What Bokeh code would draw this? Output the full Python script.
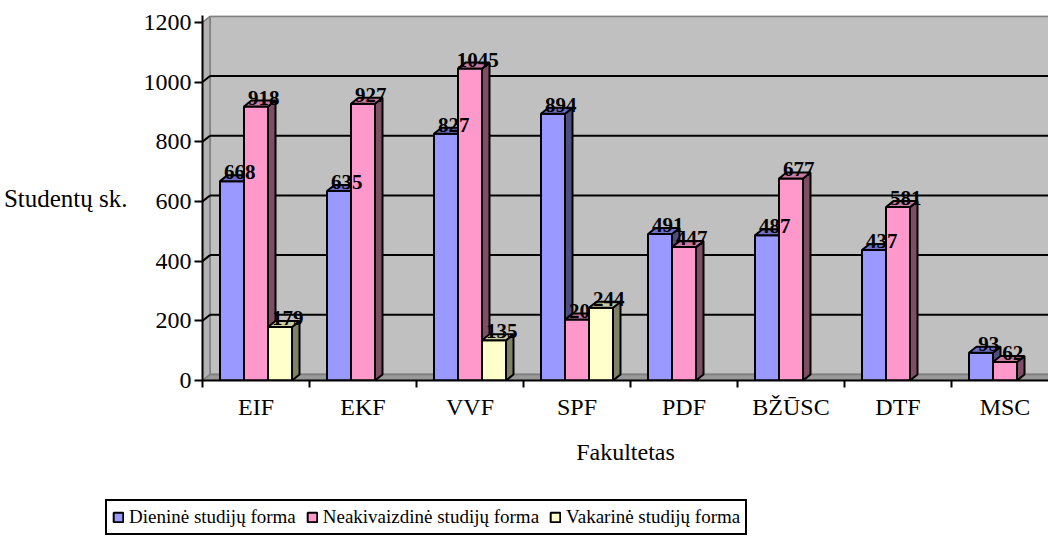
from bokeh.plotting import figure
from bokeh.layouts import column
from bokeh.models import Range1d, FixedTicker, Legend, LegendItem
from bokeh.core.properties import value
from bokeh.embed import file_html
from bokeh.resources import INLINE

# ---- data ----
categories = ["EIF", "EKF", "VVF", "SPF", "PDF", "BŽŪSC", "DTF", "MSC"]
dieninė = [668, 635, 827, 894, 491, 487, 437, 93]
neakivaizdinė = [918, 927, 1045, 204, 447, 677, 581, 62]
vakarinė = [179, None, 135, 244, None, None, None, None]
series_names = ["Dieninė studijų forma", "Neakivaizdinė studijų forma", "Vakarinė studijų forma"]
y_ticks = [0, 200, 400, 600, 800, 1000, 1200]

front_colors = ["#9999FF", "#FF99CC", "#FFFFCC"]
top_colors = ["#6F6FC8", "#CC7AA3", "#CCCCA3"]
side_colors = ["#4D4D80", "#804D66", "#808066"]

FONT = "Liberation Serif"

# ---- layout / geometry (pixels -> data) ----
W = 1048
H_MAIN = 485
H_LEG = 52
BORDER_LEFT = 202
BORDER_TOP = 15
FRAME_H = 365.0
CAT_PX = 107.0
FRAME_W = W - BORDER_LEFT
XMAX = FRAME_W / CAT_PX
YMAX = 1223.0
PX_PER_Y = FRAME_H / YMAX
DX = 7.5 / CAT_PX
DY = 6.0 / PX_PER_Y
BAR_W = 24.0 / CAT_PX
BAR_LINE = 2

p = figure(width=W, height=H_MAIN, output_backend="svg", toolbar_location=None,
           x_range=Range1d(0, XMAX), y_range=Range1d(0, YMAX),
           min_border_left=BORDER_LEFT, min_border_right=0, min_border_top=BORDER_TOP,
           min_border_bottom=int(H_MAIN - BORDER_TOP - FRAME_H))
p.frame_align = False
p.outline_line_color = None
p.xgrid.visible = False
p.ygrid.visible = False
p.background_fill_color = "white"

# walls
p.patch([DX, XMAX + 1, XMAX + 1, DX], [DY, DY, 1200 + DY, 1200 + DY],
        fill_color="#C0C0C0", line_color="#808080", line_width=2)
p.patch([0, DX, DX, 0], [0, DY, 1200 + DY, 1200],
        fill_color="#B2B2B2", line_color="#808080", line_width=1.5)
p.patch([0, XMAX + 1, XMAX + 1, DX], [0, 0, DY, DY],
        fill_color="#999999", line_color="#808080", line_width=1.5)

# gridlines on back wall and side wall
grid_vals = [v for v in y_ticks if 0 < v < 1200]
p.segment(x0=[DX] * len(grid_vals), y0=[v + DY for v in grid_vals],
          x1=[XMAX + 1] * len(grid_vals), y1=[v + DY for v in grid_vals],
          line_color="black", line_width=2)
p.segment(x0=[0] * len(grid_vals), y0=grid_vals,
          x1=[DX] * len(grid_vals), y1=[v + DY for v in grid_vals],
          line_color="black", line_width=2)

LABEL_KW = dict(text_font=value(FONT), text_font_style="bold", text_font_size="21px",
                text_align="center", text_baseline="alphabetic", y_offset=-3, x_offset=4,
                text_color="black")

all_series = [dieninė, neakivaizdinė, vakarinė]
label_data = []
for s, vals in enumerate(all_series):
    lefts, rights, tops = [], [], []
    side_xs, side_ys, top_xs, top_ys = [], [], [], []
    lx, ly, lt = [], [], []
    for i, v in enumerate(vals):
        if v is None:
            continue
        x0 = i + 0.5 - 1.5 * BAR_W + s * BAR_W
        x1 = x0 + BAR_W
        lefts.append(x0); rights.append(x1); tops.append(v)
        side_xs.append([x1, x1 + DX, x1 + DX, x1])
        side_ys.append([0, DY, v + DY, v])
        top_xs.append([x0, x1, x1 + DX, x0 + DX])
        top_ys.append([v, v, v + DY, v + DY])
        lx.append((x0 + x1) / 2 + DX / 2); ly.append(v + DY); lt.append(str(v))
    p.quad(left=lefts, right=rights, bottom=[0] * len(tops), top=tops,
           fill_color=front_colors[s], line_color="black", line_width=BAR_LINE)
    p.patches(side_xs, side_ys, fill_color=side_colors[s], line_color="black", line_width=BAR_LINE)
    p.patches(top_xs, top_ys, fill_color=top_colors[s], line_color="black", line_width=BAR_LINE)
    label_data.append((lx, ly, lt))
    if s == 1:
        p.text(x=lx, y=ly, text=lt, **LABEL_KW)

for s in (0, 2):
    lx, ly, lt = label_data[s]
    p.text(x=lx, y=ly, text=lt, **LABEL_KW)

# axes
p.yaxis.ticker = FixedTicker(ticks=y_ticks)
p.yaxis.major_label_text_font = FONT
p.yaxis.major_label_text_font_size = "24px"
p.yaxis.major_label_text_color = "black"
p.yaxis.major_tick_out = 8
p.yaxis.major_tick_in = 0
p.yaxis.major_tick_line_width = 2
p.yaxis.major_tick_line_color = "black"
p.yaxis.minor_tick_line_color = None
p.yaxis.axis_line_width = 2
p.yaxis.axis_line_color = "black"
p.yaxis.major_label_standoff = 3
p.yaxis.axis_label = "Studentų sk."
p.yaxis.axis_label_orientation = "horizontal"
p.yaxis.axis_label_text_font = FONT
p.yaxis.axis_label_text_font_size = "25px"
p.yaxis.axis_label_text_font_style = "normal"
p.yaxis.axis_label_text_color = "black"
p.yaxis.axis_label_standoff = 13

centers = [i + 0.5 for i in range(len(categories))]
p.xaxis.ticker = FixedTicker(ticks=centers, minor_ticks=list(range(len(categories) + 1)))
p.xaxis.major_label_overrides = {c: name for c, name in zip(centers, categories)}
p.xaxis.major_tick_out = 0
p.xaxis.major_tick_in = 0
p.xaxis.minor_tick_out = 7
p.xaxis.minor_tick_in = 0
p.xaxis.minor_tick_line_width = 2
p.xaxis.minor_tick_line_color = "black"
p.xaxis.axis_line_width = 2
p.xaxis.axis_line_color = "black"
p.xaxis.major_label_text_font = FONT
p.xaxis.major_label_text_font_size = "24px"
p.xaxis.major_label_text_color = "black"
p.xaxis.major_label_standoff = 6
p.xaxis.axis_label = "Fakultetas"
p.xaxis.axis_label_text_font = FONT
p.xaxis.axis_label_text_font_size = "24px"
p.xaxis.axis_label_text_font_style = "normal"
p.xaxis.axis_label_text_color = "black"
p.xaxis.axis_label_standoff = 16

# ---- legend in a strip below ----
q = figure(width=W, height=H_LEG, output_backend="svg", toolbar_location=None,
           x_range=Range1d(0, 1), y_range=Range1d(0, 1),
           min_border_left=0, min_border_right=0, min_border_top=0, min_border_bottom=0)
q.frame_align = False
q.axis.visible = False
q.xgrid.visible = False
q.ygrid.visible = False
q.outline_line_color = None
nan = float("nan")
leg_renderers = []
for s in range(3):
    leg_renderers.append(q.quad(left=[nan], right=[nan], top=[nan], bottom=[nan],
                                fill_color=front_colors[s], line_color="black", line_width=2))
legend = Legend(items=[LegendItem(label=n, renderers=[r]) for n, r in zip(series_names, leg_renderers)],
                orientation="horizontal", location=(105, 2),
                label_text_font=FONT, label_text_font_size="19px", label_text_color="black",
                glyph_width=12, glyph_height=12, label_standoff=5, spacing=10,
                padding=5, margin=0, border_line_color="black", border_line_width=2,
                border_line_alpha=1.0,
                background_fill_color="white", background_fill_alpha=1.0,
                label_height=14)
q.add_layout(legend, "center")

layout = column(p, q, spacing=0)
open("out.html", "w").write(file_html(layout, INLINE))
